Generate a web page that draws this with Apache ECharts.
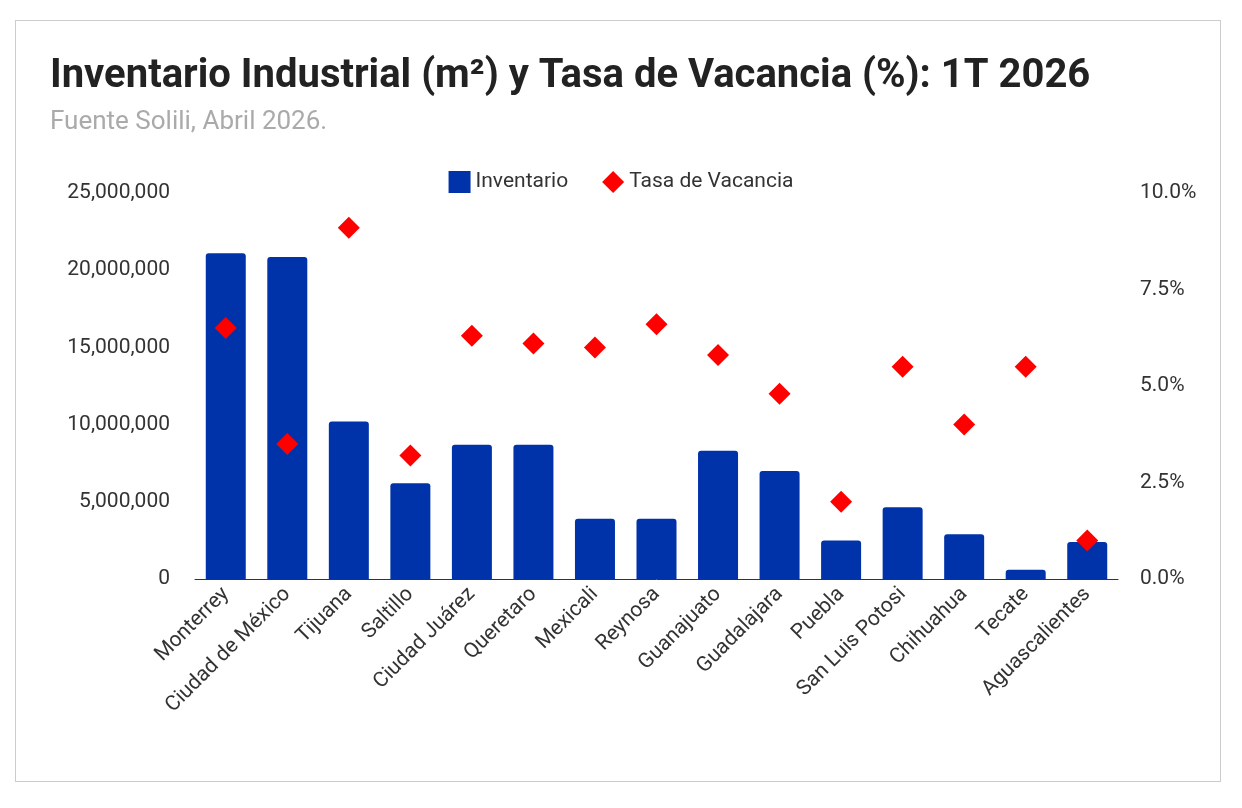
<!DOCTYPE html>
<html><head><meta charset="utf-8">
<script src="https://cdn.jsdelivr.net/npm/echarts@6/dist/echarts.min.js"></script>
<style>html,body{margin:0;padding:0;background:#fff}
#frame{position:absolute;left:15px;top:20px;width:1206px;height:762px;border:1px solid #ccc;box-sizing:border-box}
#c{position:absolute;left:0;top:0;width:1242px;height:808px}</style>
</head><body><div id="frame"></div><div id="c"></div>
<script>
const categories=["Monterrey","Ciudad de México","Tijuana","Saltillo","Ciudad Juárez","Queretaro","Mexicali","Reynosa","Guanajuato","Guadalajara","Puebla","San Luis Potosi","Chihuahua","Tecate","Aguascalientes"];
const inventario=[21100000,20850000,10200000,6200000,8700000,8700000,3900000,3900000,8300000,7000000,2500000,4650000,2900000,600000,2400000];
const vacancia=[6.5,3.5,9.1,3.2,6.3,6.1,6.0,6.6,5.8,4.8,2.0,5.5,4.0,5.5,1.0];
const c=echarts.init(document.getElementById('c'));
const ff='Roboto';
c.setOption({
 textStyle:{fontFamily:ff},
 title:{text:'Inventario Industrial (m²) y Tasa de Vacancia (%): 1T 2026',subtext:'Fuente Solili, Abril 2026.',left:45,top:52,
  textStyle:{fontSize:40,fontWeight:'bold',color:'#222',fontFamily:ff},
  subtextStyle:{fontSize:26,color:'#aaa',fontFamily:ff},itemGap:12},
 legend:{top:166,left:'center',itemGap:34,textStyle:{fontSize:21,color:'#333'},
  data:[{name:'Inventario',icon:'rect'},{name:'Tasa de Vacancia',icon:'diamond'}],itemWidth:22,itemHeight:22},
 grid:{left:195,right:124,top:193,bottom:229},
 xAxis:{type:'category',data:categories,axisTick:{show:false},axisLine:{lineStyle:{color:'#333'}},
  axisLabel:{rotate:45,fontSize:21,color:'#333',interval:0,margin:12}},
 yAxis:[{type:'value',min:0,max:25000000,interval:5000000,splitLine:{show:false},
   axisLabel:{fontSize:21,color:'#333',margin:25,formatter:v=>v.toLocaleString('en-US')}},
  {type:'value',min:0,max:10,interval:2.5,splitLine:{show:false},
   axisLabel:{fontSize:21,color:'#333',margin:22,formatter:v=>v.toFixed(1)+'%'}}],
 series:[{name:'Inventario',type:'bar',data:inventario,barWidth:40,itemStyle:{color:'#0033aa',borderRadius:[3,3,0,0]}},
  {name:'Tasa de Vacancia',type:'scatter',yAxisIndex:1,data:vacancia,symbol:'diamond',symbolSize:22,itemStyle:{color:'#ff0000',opacity:1}}]
});
</script></body></html>
